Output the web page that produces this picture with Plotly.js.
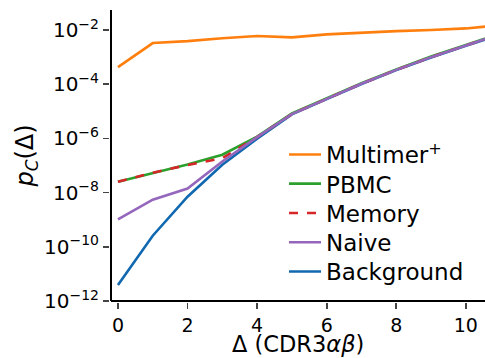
<!DOCTYPE html>
<html>
<head>
<meta charset="utf-8">
<script src="https://cdn.plot.ly/plotly-3.0.1.min.js"></script>
<style>html,body{margin:0;padding:0;background:#fff}#chart{width:485px;height:358px}</style>
</head>
<body>
<div id="chart"></div>
<script>
// Data (log10 of p_C values)
const deltaFull = [0, 1, 2, 3, 4, 5, 6, 7, 8, 9, 10, 11];
const multimerLog = [-3.37, -2.48, -2.41, -2.30, -2.22, -2.27, -2.16, -2.09, -2.04, -2.00, -1.94, -1.82];
const pbmcLog = [-7.60, -7.27, -6.96, -6.60, -5.93, -5.08, -4.52, -3.96, -3.45, -2.98, -2.55, -2.13];
const memoryLog = [-7.60, -7.27, -6.98, -6.73, -5.95, -5.10, -4.54, -3.98, -3.47, -3.00, -2.57, -2.15];
const naiveLog = [-8.99, -8.26, -7.85, -6.85, -5.95, -5.10, -4.54, -3.98, -3.47, -3.00, -2.57, -2.15];
const backgroundLog = [-11.41, -9.59, -8.15, -6.97, -6.01, -5.11, -4.55, -3.99, -3.48, -3.01, -2.58, -2.16];
const seriesNames = ["Multimer<sup>+</sup>", "PBMC", "Memory", "Naive", "Background"];
const seriesColors = ["#ff7f0e", "#2ca02c", "#d62728", "#9467bd", "#1068b0"];
const xTickVals = [0, 2, 4, 6, 8, 10];
const yTickExps = [-12, -10, -8, -6, -4, -2];
const yTickText = ["10<sup>−12</sup>", "10<sup>−10</sup>", "10<sup>−8</sup>", "10<sup>−6</sup>", "10<sup>−4</sup>", "10<sup>−2</sup>"];
const xTitle = "Δ (CDR3<i>αβ</i>)";
const yTitle = "<i>p</i><sub><i>C</i></sub>(Δ)";

const toVal = a => a.map(v => Math.pow(10, v));
const allSeries = [multimerLog, pbmcLog, memoryLog, naiveLog, backgroundLog];
const dashes = ["solid", "solid", "dash", "solid", "solid"];
const zorders = [5, 2, 3, 4, 1];
const legendIds = ["legend", "legend2", "legend3", "legend4", "legend5"];
const legendRowPx = [154.5, 183.7, 213, 242.3, 271.5];

const traces = allSeries.map((s, i) => ({
  x: deltaFull, y: toVal(s), type: "scatter", mode: "lines",
  name: seriesNames[i], zorder: zorders[i], legend: legendIds[i],
  line: {color: seriesColors[i], width: 2.6, dash: dashes[i]}
}));

const font = {family: "DejaVu Sans, sans-serif", color: "#000"};
const plotTop = 10, plotH = 291, plotL = 111, plotW = 374;
const layout = {
  width: 485, height: 358,
  margin: {l: plotL, r: 0, t: plotTop, b: 358 - plotTop - plotH},
  paper_bgcolor: "#fff", plot_bgcolor: "rgba(0,0,0,0)",
  font: Object.assign({size: 19}, font),
  showlegend: true,
  xaxis: {
    range: [-0.2, 10.55], tickvals: xTickVals, ticks: "outside", ticklen: 6, tickwidth: 1.6,
    showline: true, linewidth: 2, linecolor: "#000", showgrid: false, zeroline: false,
    tickfont: Object.assign({size: 19}, font)
  },
  yaxis: {
    type: "log", range: [-12, -1.26], tickvals: toVal(yTickExps), ticktext: yTickText,
    ticks: "outside", ticklen: 6, tickwidth: 1.6,
    showline: true, linewidth: 2, linecolor: "#000", showgrid: false, zeroline: false,
    tickfont: Object.assign({size: 20}, font),
    title: {text: yTitle, font: Object.assign({size: 24}, font), standoff: 4}
  },
  annotations: [
    {text: xTitle, xref: "paper", yref: "paper", x: 0.5, y: (plotTop + plotH - 344) / plotH,
     xanchor: "center", yanchor: "middle", showarrow: false,
     font: Object.assign({size: 22.5}, font)}
  ],
  shapes: [
    {type: "line", xref: "paper", yref: "paper", x0: 0, x1: 0, y0: 0, y1: 1, line: {color: "#000", width: 2}},
    {type: "line", xref: "paper", yref: "paper", x0: 0, x1: 1, y0: 0, y1: 0, line: {color: "#000", width: 2}}
  ]
};
legendIds.forEach((id, i) => {
  layout[id] = {x: 0.4626, y: (plotTop + plotH - legendRowPx[i]) / plotH,
    xanchor: "left", yanchor: "middle",
    font: Object.assign({size: 23}, font), bgcolor: "rgba(0,0,0,0)", itemwidth: 32};
});
Plotly.newPlot("chart", traces, layout, {displayModeBar: false, staticPlot: true});
</script>
</body>
</html>
